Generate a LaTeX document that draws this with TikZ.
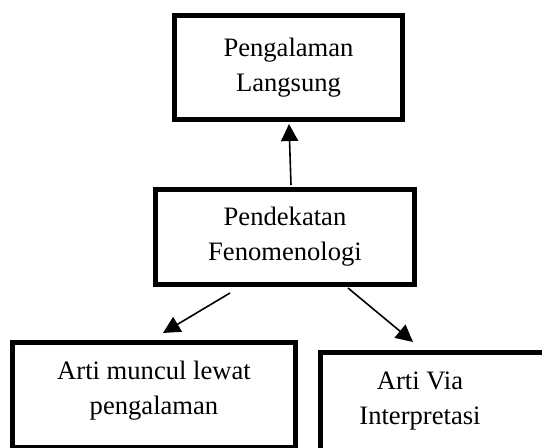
\documentclass[tikz,border=0pt]{standalone}
\usepackage{fontspec}
\setmainfont{Liberation Serif}
\usetikzlibrary{arrows.meta}
\usetikzlibrary{calc,positioning}

\tikzset{
  box/.style={draw,line width=2.5pt,outer sep=0pt,inner sep=0pt,align=center,
    font=\fontsize{13.3}{17.4}\selectfont},
  txt/.style={align=center,inner sep=0pt,font=\fontsize{13.3}{17.4}\selectfont},
  arr/.style={-{Triangle[length=8.5pt,width=8.5pt]},line width=0.8pt}
}

\begin{document}
\begin{tikzpicture}[x=0.5pt,y=-0.5pt]
        \useasboundingbox (0,0) rectangle (542,448);
        \clip (0,0) rectangle (542,448);

        \node[box,minimum width=114pt,minimum height=51.75pt] (top) at (288.5,67.3) {Pengalaman\\Langsung};
        \node[box,minimum width=129.5pt,minimum height=47.5pt] (mid) at (285,237) {Pendekatan\\Fenomenologi};

        \node[box,minimum width=141.5pt,minimum height=52.75pt] (kiri) at (154,395.25) {};
        \node[txt] (kiritext) at (154,391) {Arti muncul lewat\\pengalaman};
        \node[box,minimum width=130pt,minimum height=53.75pt] (kanan) at (450.5,406.25) {};
        \node[txt] (kanantext) at (420,401) {Arti Via\\Interpretasi};

        \draw[arr] ($(mid.north)+(6,-4.5)$) -- ($(top.south)+(0.5,5)$);
        \draw[arr] ($(mid.south)+(-55,8.5)$) -- ($(kiri.north)+(9,-9.5)$);
        \draw[arr] ($(mid.south)+(63,3.5)$) -- ($(kanan.north west)+(92.5,-10.5)$);
      \end{tikzpicture}
\end{document}
